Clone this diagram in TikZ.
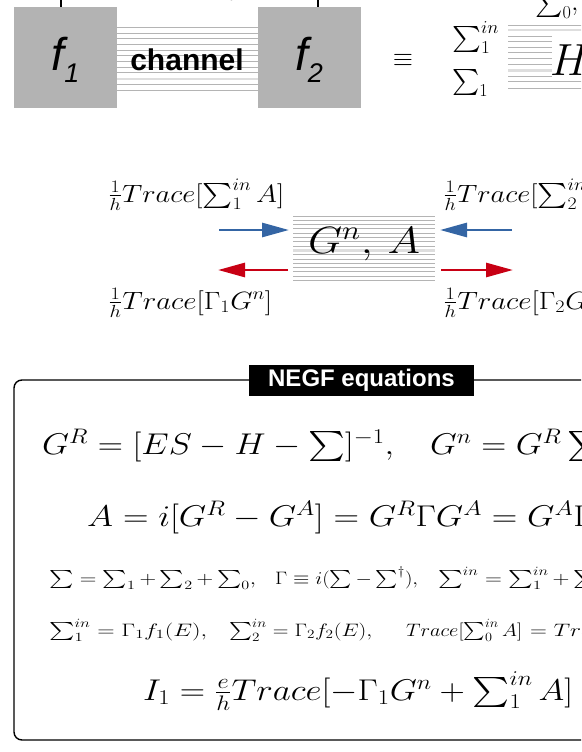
\RequirePackage{fix-cm}
\documentclass[tikz,border=0pt]{standalone}
\usepackage{amsmath}
\usepackage{graphicx}
\usepackage{fontspec}
\setsansfont{Liberation Sans}
\usetikzlibrary{arrows.meta}
\definecolor{boxgray}{RGB}{179,179,179}
\definecolor{chgray}{RGB}{180,180,180}
\definecolor{chlight}{RGB}{222,222,222}
\definecolor{arrblue}{RGB}{52,101,164}
\definecolor{arrred}{RGB}{200,0,20}
\DeclareFontShape{OMX}{cmex}{m}{n}{<-> cmex10}{}
\newcommand\fs[1]{\fontsize{#1}{#1}\selectfont}
\newcommand\xfit[2]{\resizebox{#1}{\height}{#2}}
\tikzset{
  fbox/.style={fill=boxgray, minimum width=103pt, minimum height=101pt, inner sep=0pt},
  chline/.style={draw=chgray, line width=0.9pt},
  chlite/.style={draw=chlight, line width=2.4pt},
  lbl/.style={inner sep=0pt, anchor=base west},
  flow/.style={line width=2.8pt, -{Triangle[length=27pt,width=14pt]}},
  eqn/.style={inner sep=0pt, anchor=base west},
}
\begin{document}
\begin{tikzpicture}[x=1pt,y=-1pt]
\useasboundingbox (0,0) rectangle (581,752);
\clip (0,0) rectangle (581,752);
% top channel
\foreach \i in {0,...,11}{\draw[chline] (117,27.3+5.7*\i) -- (258,27.3+5.7*\i);}
\draw[chlite] (117,78.7) -- (258,78.7);
\node[fbox] (f1) at (65.5,57.5) {};
\node[fbox] (f2) at (309,57.5) {};
\node[inner sep=0pt] (f1t) at (65.5,60) {\sffamily\itshape\fs{46}f\raisebox{-12pt}{\fs{27}1}};
\node[inner sep=0pt] (f2t) at (309,60) {\sffamily\itshape\fs{46}f\raisebox{-12pt}{\fs{27}2}};
\node[inner sep=0pt] (ch) at (187,59.5) {\sffamily\bfseries\fs{30}channel};
\coordinate (t1) at (61,-10);
\coordinate (t2) at (318,-10);
\draw[line width=1.6pt] ([xshift=-4.5pt]f1.north) -- (t1);
\draw[line width=1.6pt] ([xshift=9pt]f2.north) -- (t2);
\node[lbl] (vb) at (228,1) {\fs{20}$b$};
% equivalent
\node[inner sep=0pt] (eq) at (403,60) {\fs{26}$\equiv$};
\node[lbl] (s1in) at (452,46) {\xfit{47pt}{\fs{26}$\sum_1^{in}$}};
\node[lbl] (s1) at (452,89) {\xfit{36pt}{\fs{26}$\sum_1$}};
\foreach \y in {25,81.7,88.3}{\draw[chline] (508,\y) -- (600,\y);}
\foreach \y in {36,41.7,47.3,52.3,58.3,64.3,76}{\draw[chline] (508,\y) -- (552,\y);}
\draw[chlite] (508,30) -- (600,30);
\draw[chlite] (508,70.7) -- (552,70.7);
\node[lbl] (H) at (550,76) {\fs{45}$H$};
\node[lbl] (s0) at (535,11) {\fs{26}$\sum_0,$};
% middle
\foreach \i in {0,...,15}{\draw[chline] (293,216+4.3*\i) -- (435,216+4.3*\i);}
\draw[chlite] (293,250.5) -- (435,250.5);
\node[inner sep=0pt] (gn) at (364,244) {\xfit{112pt}{\fs{38}$G^n,\,A$}};
\coordinate (b1s) at (219,230); \coordinate (b1e) at (289,230);
\coordinate (r1s) at (288,270); \coordinate (r1e) at (218,270);
\coordinate (b2s) at (512,230); \coordinate (b2e) at (440,230);
\coordinate (r2s) at (441,270); \coordinate (r2e) at (513,270);
\draw[flow, arrblue] (b1s) -- (b1e);
\draw[flow, arrred] (r1s) -- (r1e);
\draw[flow, arrblue] (b2s) -- (b2e);
\draw[flow, arrred] (r2s) -- (r2e);
\node[lbl] (l1) at (108,202) {\xfit{176pt}{\fs{25}$\frac{1}{h}Trace[\sum_1^{in}A]$}};
\node[lbl] (l2) at (443,202) {\xfit{176pt}{\fs{25}$\frac{1}{h}Trace[\sum_2^{in}A]$}};
\node[lbl] (l3) at (108,309) {\xfit{164pt}{\fs{25}$\frac{1}{h}Trace[\Gamma_1G^n]$}};
\node[lbl] (l4) at (443,309) {\xfit{164pt}{\fs{25}$\frac{1}{h}Trace[\Gamma_2G^n]$}};
% NEGF frame
\draw[line width=1.4pt, rounded corners=8pt] (14,380) rectangle (708,740);
\node[fill=black, text=white, minimum width=225pt, minimum height=31pt, inner sep=0pt] (title) at (361.5,380) {\sffamily\bfseries\fs{24}NEGF equations};
\node[eqn] (e1a) at (42,454) {\xfit{352pt}{\fs{30}$G^R=[ES-H-\sum]^{-1},$}};
\node[eqn] (e1b) at (430,454) {\scalebox{1.155}[1]{\fs{30}$G^n=G^R\sum^{in}G^A$}};
\node[eqn] (e2) at (87,526) {\scalebox{1.18}[1]{\fs{30}$A=i[G^R-G^A]=G^R\Gamma G^A=G^A\Gamma G^R$}};
\node[eqn] (e3a) at (49,584) {\xfit{207pt}{\fs{18}$\sum=\sum_1+\sum_2+\sum_0,$}};
\node[eqn] (e3b) at (275,584) {\xfit{143pt}{\fs{18}$\Gamma\equiv i(\sum-\sum^\dagger),$}};
\node[eqn] (e3c) at (438,584) {\scalebox{1.3}[1]{\fs{18}$\sum^{in}=\sum_1^{in}+\sum_2^{in}+\sum_0^{in}$}};
\node[eqn] (e4a) at (49,636) {\xfit{158pt}{\fs{18}$\sum_1^{in}=\Gamma_1f_1(E),$}};
\node[eqn] (e4b) at (229,636) {\xfit{143pt}{\fs{18}$\sum_2^{in}=\Gamma_2f_2(E),$}};
\node[eqn] (e4c) at (406,636) {\xfit{116pt}{\fs{18}$Trace[\sum_0^{in}A]$}};
\node[eqn] (e4d) at (530,636) {\scalebox{1.3}[1]{\fs{18}$=Trace[\Gamma_0G^n]$}};
\node[eqn] (e5) at (143,700) {\xfit{430pt}{\fs{30}$I_1=\frac{e}{h}Trace[-\Gamma_1G^n+\sum_1^{in}A]$}};
\end{tikzpicture}
\end{document}
